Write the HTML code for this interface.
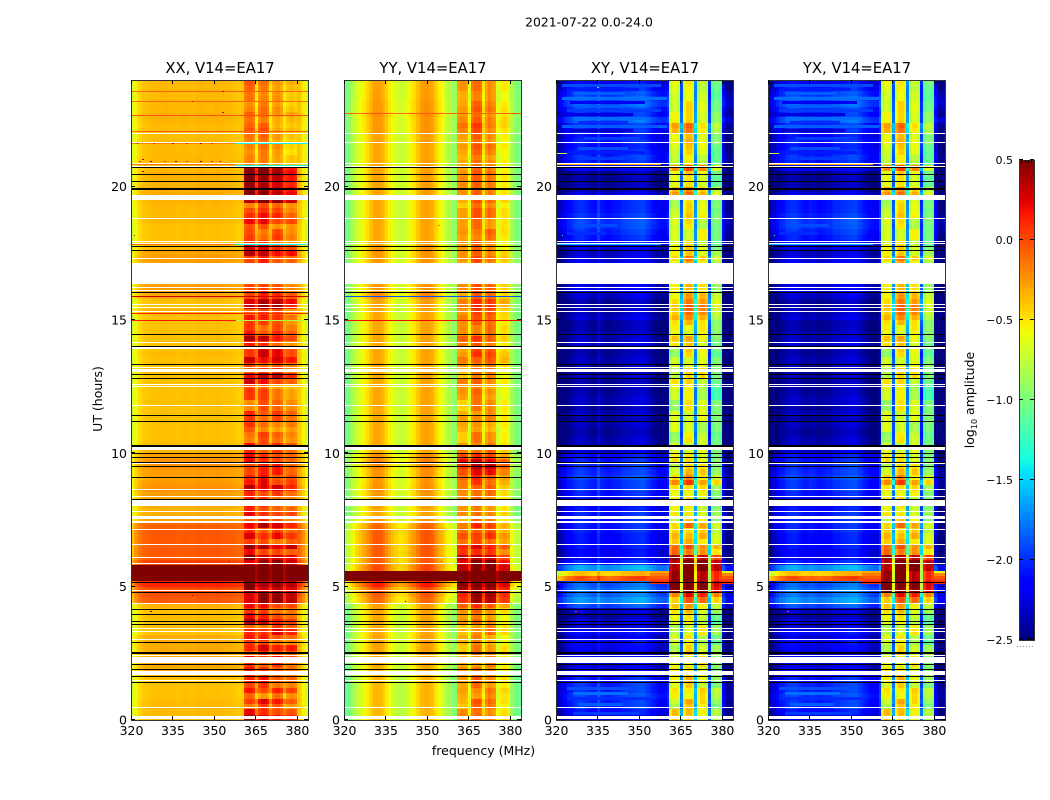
<!DOCTYPE html>
<html lang="en">
<head>
<meta charset="utf-8">
<title>2021-07-22 0.0-24.0</title>
<style>
html,body{margin:0;padding:0;background:#fff;width:1050px;height:800px;overflow:hidden}
svg{display:block}
text{font-family:"DejaVu Sans","Liberation Sans",sans-serif;fill:#000}
</style>
</head>
<body>
<svg id="fig" xmlns="http://www.w3.org/2000/svg" width="1050" height="800" viewBox="0 0 1050 800">
  <text x="589" y="26.5" font-size="12.4" text-anchor="middle">2021-07-22 0.0-24.0</text>
  <text x="483.5" y="755" font-size="12.5" text-anchor="middle">frequency (MHz)</text>
  <text transform="translate(102,399) rotate(-90)" font-size="12.5" text-anchor="middle">UT (hours)</text>
  <text transform="translate(974,400) rotate(-90)" font-size="12.5" text-anchor="middle">log<tspan font-size="8" dy="3">10</tspan><tspan dy="-3"> amplitude</tspan></text>
</svg>
<script>
// ---- axis data ----
const panelTitles = ["XX, V14=EA17", "YY, V14=EA17", "XY, V14=EA17", "YX, V14=EA17"];
const xTickLabels = [320, 335, 350, 365, 380];
const yTickLabels = [0, 5, 10, 15, 20];
const colorbarTicks = [-2.5, -2.0, -1.5, -1.0, -0.5, 0.0, 0.5];

// ---- heatmap data: log10 amplitude per 1 MHz channel (320..383 MHz) ----
const profileXX = [
-.72,-.58,-.5,-.46,-.42,-.4,-.4,-.39,-.38,-.38,
-.38,-.38,-.37,-.38,-.38,-.38,-.39,-.39,-.38,-.38,
-.38,-.39,-.39,-.38,-.37,-.37,-.38,-.38,-.38,-.38,
-.37,-.37,-.38,-.38,-.39,-.39,-.4,-.4,-.42,-.42,
-.42,-.17,-.12,-.12,-.19,-.4,-.17,-.09,-.09,-.17,
-.4,-.19,-.12,-.12,-.19,-.42,-.22,-.17,-.17,-.22,
-.4,-.45,-.55,-.72];
const profileYY = [
-1.05,-1,-.92,-.82,-.72,-.65,-.6,-.55,-.48,-.4,
-.33,-.3,-.3,-.32,-.38,-.46,-.55,-.62,-.68,-.72,
-.74,-.72,-.68,-.62,-.55,-.5,-.42,-.35,-.3,-.28,
-.28,-.32,-.38,-.46,-.55,-.62,-.7,-.78,-.85,-.9,
-.95,-.42,-.38,-.38,-.42,-.65,-.25,-.18,-.18,-.22,
-.55,-.3,-.22,-.25,-.3,-.7,-.55,-.5,-.5,-.55,
-.85,-.95,-1,-1.02];
const profileXY = [
-2.5,-2.45,-2.38,-2.3,-2.22,-2.2,-2.15,-2.12,-2.1,-2.1,
-2.12,-2.15,-2.18,-2.2,-2.2,-2.05,-2.18,-2.2,-2.22,-2.22,
-2.2,-2.18,-2.18,-2.15,-2.12,-2.12,-2.1,-2.08,-2.08,-2.06,
-2.05,-2.05,-2.08,-2.12,-2.18,-2.22,-2.25,-2.28,-2.3,-2.3,
-2.2,-.95,-.8,-.8,-.9,-1.9,-.75,-.6,-.6,-.7,
-1.75,-.85,-.7,-.7,-.8,-2.05,-1.1,-.95,-.95,-1.05,
-2.35,-2.55,-2.6,-2.6];
const profileYX = [
-2.5,-2.45,-2.38,-2.3,-2.22,-2.2,-2.15,-2.12,-2.1,-2.1,
-2.1,-2.14,-2.18,-2.2,-2.2,-2.16,-2.18,-2.2,-2.22,-2.22,
-2.2,-2.18,-2.18,-2.15,-2.12,-2.12,-2.1,-2.08,-2.08,-2.06,
-2.05,-2.05,-2.08,-2.12,-2.18,-2.22,-2.25,-2.28,-2.3,-2.3,
-2.1,-.95,-.8,-.8,-.9,-1.9,-.75,-.6,-.6,-.7,
-1.75,-.85,-.7,-.7,-.8,-2.05,-1.1,-.95,-.95,-1.05,
-2.35,-2.55,-2.6,-2.6];

// time rows: one value every 0.2 h, from 0 h to 24 h (off-band channel offset)
const rowXX = [
.02,.02,.02,.02,0,0,0,0,.05,.08,
.08,.06,.07,.07,.07,.07,0,.02,0,.02,
0,.05,.33,.36,.38,.5,1.4,1.4,1.4,.4,
.33,.33,.32,.33,.33,.33,.3,.1,.06,.05,
.07,.1,.12,.15,.12,.1,.12,.14,.14,.12,
.05,.02,0,0,0,0,0,0,0,0,
0,0,0,0,0,0,0,0,.02,0,
0,0,0,0,0,0,.05,0,0,.08,
.12,.1,0,0,0,.1,.12,.1,.02,0,
0,0,0,.02,.02,.02,.03,.05,.07,.07,
.05,.05,.05,.03,.03,.03,.02,.02,.01,.01,
.02,.02,.04,.04,.03,.03,.02,.02,.02,.03];
// time rows: in-band (361-380 MHz) offset
const bandXX = [
.45,.25,.05,.25,-.05,.2,.1,.2,.1,.15,
.1,.25,.1,.3,.1,.2,.3,.1,.35,.2,
.1,.25,.5,.5,.5,.6,.8,.8,.8,.5,
.5,.2,.5,.1,.3,.15,.4,.1,.25,.15,
.15,.15,.15,.4,.25,.2,.2,.2,.2,.2,
.15,.2,0,.05,-.05,.05,.1,.15,0,0,
.05,.05,-.05,.25,.4,.1,.1,.4,.3,.3,
.1,.35,.2,.1,.1,.2,.05,.45,.45,.2,
.1,.1,0,0,0,.15,.15,.4,.3,.05,
.1,.05,0,.25,.2,.1,0,.55,.55,.5,
.45,.5,.55,.5,-.1,-.1,-.15,-.1,-.15,-.1,
-.05,-.1,-.12,-.05,-.1,-.15,-.1,-.12,-.1,-.05];
const rowYY = [
-.05,-.05,-.05,-.05,-.05,-.05,-.05,-.05,-.05,-.03,
0,0,0,.02,.02,.02,0,0,0,0,
.02,.03,.2,.25,.3,.45,1.6,1.6,.3,.25,
.25,.25,.25,.25,.25,.25,.2,.05,0,0,
0,0,.05,.07,.05,.05,.07,.1,.12,.1,
0,0,0,0,0,0,0,0,0,0,
0,0,0,0,0,0,0,0,0,0,
0,0,0,0,0,0,0,.02,.02,.1,
.05,.05,0,0,0,.05,.05,.05,.05,0,
0,0,0,0,0,0,0,0,.02,.02,
.02,.02,.02,.02,.02,0,0,0,.02,.02,
.05,.05,.05,.08,.05,.05,.03,.03,.02,.02];
const bandYY = [
.15,.1,.05,.1,0,.05,.05,.1,.05,.05,
0,0,.05,0,-.02,0,.05,0,.05,0,
.1,.25,.55,.6,.7,.8,1.1,1.1,.8,.7,
.6,.35,.45,.2,.3,.2,.25,.05,.1,.05,
.05,.1,.1,.15,.2,.25,.4,.5,.5,.3,
.15,.05,0,0,-.05,0,.05,0,0,0,
0,.05,0,.1,0,.05,.1,.2,.2,.15,
.1,.2,.1,.1,.1,.15,.15,.25,.25,.1,
.15,.15,0,0,0,.1,.15,.1,.05,.05,
.05,.1,.05,.05,.1,.1,0,.1,.1,.1,
.1,.1,.1,.05,.05,0,.05,.1,0,.05,
.1,.15,.1,.05,.1,.05,0,0,.05,.05];
const rowXY = [
-.1,.05,.15,.15,.2,.15,.15,.1,0,-.05,
-.1,-.05,-.1,-.05,0,-.1,0,-.15,-.1,-.25,
-.15,.25,.45,.35,.35,.3,2.1,1.75,.5,.1,
0,0,.05,.05,.05,.1,.1,.1,.1,.05,
0,.05,.1,.15,.15,.2,.15,.15,.1,.05,
-.15,-.2,-.2,-.25,-.25,-.2,-.25,-.2,-.25,-.2,
-.2,-.25,-.25,-.25,-.2,-.25,-.25,-.2,-.25,-.25,
-.15,-.2,-.2,-.25,-.25,-.15,-.2,-.25,-.25,-.15,
-.05,-.1,0,0,0,-.05,-.1,-.15,-.1,.05,
.1,.15,.2,.2,.15,.1,.1,.1,-.1,-.2,
-.25,-.25,-.25,-.05,.1,.15,.1,.05,.1,.05,
.1,.15,.3,.15,.2,.3,.25,.2,.1,0];
const bandXY = [
.25,.3,.1,.2,.15,.2,.1,.2,.15,.1,
.1,.05,.1,.05,0,.05,.1,.05,0,.05,
.2,.3,.5,.75,1.25,1.3,1.2,1.2,1.3,1.3,
1.1,.55,.6,.3,.35,.25,.4,.1,.15,.1,
.1,.1,.1,.2,.55,.3,.2,.1,.15,.1,
.05,0,0,-.05,0,0,.05,.05,0,0,
-.05,-.05,0,.1,.1,.1,.1,.05,0,.05,
.1,.2,.1,.15,.2,.35,.4,.45,.4,.3,
.2,.2,0,0,0,.2,.35,.15,.1,0,
.05,.05,0,.05,.1,.05,.05,0,.45,.35,
.05,.05,.1,.5,0,0,.05,.1,.15,.1,
.3,.35,.1,.1,.05,.05,0,0,0,.05];

// per-subband mottling, one value every 0.4 h from 0 h to 24 h
const subbandA = [
.12,-.08,.1,.05,.15,.1,-.05,.1,-.05,.15,
.1,-.1,.12,.05,-.1,.15,.08,.1,-.05,.12,
.15,.1,.05,-.05,.15,.12,-.05,.15,.1,-.08,
.15,.18,-.05,.05,-.1,.18,.1,.1,-.02,-.05,
.05,.12,0,.1,.12,.08,.1,.02,-.05,.1,
.12,.08,.05,.05,.1,.15,.12,.05,.1,.15];
const subbandB = [
-.05,.1,-.1,.08,.02,-.08,.1,.05,-.12,.05,
.05,.08,-.1,.1,.05,-.08,0,-.1,.1,-.05,
.05,-.05,.1,.05,0,-.1,.1,-.05,-.1,.1,
.1,.05,.05,-.1,.12,.1,-.12,.05,.1,.05,
.05,-.05,.1,.05,.1,-.1,.08,.1,.1,.05,
.05,.1,.05,.1,.12,.15,.05,.1,.02,.05];
const subbandC = [
-.12,.05,.08,-.1,-.05,.12,-.02,-.1,.1,-.05,
-.1,.1,-.02,-.1,.12,-.05,-.1,.05,.02,-.08,
-.1,.05,-.1,.1,-.05,.05,.02,-.1,.05,.05,
-.05,-.1,.1,.02,.08,-.05,.05,.02,.1,.05,
.02,.02,-.05,-.08,-.05,.1,-.1,.05,.05,-.05,
-.02,.02,-.05,.02,-.02,-.1,-.05,.02,.02,-.05];
const subbandD = [
-.1,-.12,.02,-.1,-.08,-.05,.05,-.12,.02,-.12,
-.05,.02,-.05,-.1,0,-.08,.02,-.05,-.1,-.05,
-.12,-.08,-.02,-.1,-.1,-.05,-.05,-.02,-.05,-.02,
-.15,-.15,-.1,-.05,-.12,-.15,-.08,-.15,-.12,-.05,
-.1,-.1,-.05,-.02,-.12,-.08,-.05,-.1,-.05,-.12,
-.15,-.15,-.1,-.15,-.1,-.12,-.05,-.1,-.12,-.08];
const subbandTables = [subbandA, subbandB, subbandC, subbandD];
const subbandStart = [361, 366, 371, 376];
const subbandScale = [1, .7, 1.2, 1.2];

// flagged rows (hours)
const whiteLines = [22.0,21.66,20.9,20.79,18.81,17.97,17.88,17.31,16.23,16.14,15.59,15.48,15.35,14.16,13.23,12.59,12.53,11.8,9.65,8.65,8.41,7.85,7.15,6.59,6.1,5.88,4.86,4.38,3.46,3.35,3.03,2.44,1.5,.48];
const whiteBandStart = [19.5,16.35,13.91,13.04,10.13,8.03,7.54,7.4,2.13,1.67,.03];
const whiteBandEnd = [19.69,17.14,13.99,13.16,10.24,8.28,7.64,7.47,2.36,1.85,.15];
const blackLines = [20.72,20.46,20.2,17.78,17.61,16.06,14.46,14.01,13.34,12.99,12.81,11.45,11.2,10,9.85,9.69,9.51,9.1,8.29,5.16,4.79,4.17,3.96,3.7,3.6,2.91,2.11,1.92,1.66,1.41];
const blackThick = [19.96,10.32,2.56];

// thin anomalous rows: panel index, hour, start MHz, end MHz, value
const streakPanel = [0,0,0,0,0,0,0,0,0,0,0,0,0,0,1,1,1,1,2,3,2,3,2,3];
const streakHour = [23.6,23.2,22.7,22.1,21.64,21.64,20.82,20.85,17.86,17.86,15.9,15.25,15.0,15.0,15.9,15.0,22.75,20.88,20.85,20.85,21.25,21.25,17.86,17.86];
const streakFrom = [320,320,320,320,358,320,358,320,358,320,320,320,320,358,320,320,320,320,320,320,320,320,320,320];
const streakTo = [384,384,384,384,384,358,384,358,384,358,384,384,358,384,384,384,384,358,358,358,352,352,358,358];
const streakValue = [-.08,-.1,-.02,-.08,-1.4,-.2,-1.4,-.15,-1.4,-.1,.3,.1,.15,-.8,-1.9,.2,-.08,-.2,-.35,-.35,-.75,-.75,-1.6,-1.6];

// cross-hand off-band streaks, shared by XY and YX (last rows fill the spike beside the band)
const crossHour = [23.85,23.7,23.55,23.35,23.2,23.05,22.9,22.75,22.6,22.45,22.3,22.15,21.85,21.5,21.35,21.1,18.6,18.3,1.25,1.05,.85,.65,.3,5.6,5.5,5.4,5.3,5.2,5.6,5.5,5.4,5.3,5.2];
const crossFrom = [322,324,326,322,325,328,324,322,326,328,322,325,330,328,324,330,326,324,324,326,324,328,326,354,354,354,354,354,380,380,380,380,380];
const crossTo = [358,350,345,360,352,344,358,348,354,346,360,348,350,346,352,348,342,338,352,346,354,344,350,361,361,361,361,361,384,384,384,384,384];
const crossValue = [-1.9,-2.05,-1.85,-1.8,-2.2,-1.85,-1.95,-2.25,-1.8,-2,-1.85,-2.3,-1.95,-1.9,-2.05,-1.95,-1.9,-2,-1.9,-1.8,-2,-1.85,-1.95,-.3,-.15,-.05,.05,.1,-.6,-.2,-.05,.05,.1];

// single outlier cells: panel index, channel MHz, hour, value
const speckPanel = [0,0,0,0,0,0,0,0,0,0,0,0,0,0,0,0,0,0,0,0,0,0,0,2,2,2,2,3,3,1,1,1];
const speckFreq = [353,342,353,324,324,321,323,327,332,336,340,345,349,352,322,328,335,340,345,349,342,355,327,327,355,335,322,327,322,355,342,354];
const speckHour = [23.6,23.2,22.8,21.05,20.6,18.2,20.95,20.95,20.95,20.95,20.95,20.95,20.95,20.95,21.64,21.64,21.64,21.64,21.64,21.64,4.7,5.96,4.1,4.1,5.96,23.75,18.2,4.1,18.2,5.96,4.45,18.55];
const speckValue = [.3,.3,.3,.3,.3,.3,.1,.4,.1,.4,.1,.4,.1,.4,.4,.1,.4,.1,.4,.1,.45,.5,.55,0,-.1,-1.2,-1.2,0,-1.2,.2,.45,-.1];

const panelProfiles = [profileXX, profileYY, profileXY, profileYX];
const panelRows = [rowXX, rowYY, rowXY, rowXY];
const panelBands = [bandXX, bandYY, bandXY, bandXY];

// ---- layout ----
const svg = document.getElementById('fig');
const NS = 'http://www.w3.org/2000/svg';
const panelLeft = [131, 344, 556, 768];
const panelWidth = 177, panelTop = 80, panelHeight = 640;
const fMin = 320, fMax = 384, tMin = 0, tMax = 24, rowStep = 0.2, textureStep = 0.4;
const vMin = -2.5, vMax = 0.5;
const cbLeft = 1019, cbRight = 1034, cbTop = 160, cbBottom = 640;

const xScale = (p, f) => panelLeft[p] + (f - fMin) / (fMax - fMin) * panelWidth;
const yScale = h => panelTop + panelHeight - (h - tMin) / (tMax - tMin) * panelHeight;
const cbScale = v => cbBottom - (v - vMin) / (vMax - vMin) * (cbBottom - cbTop);

function lerpStops(x, xs, ys) {
  if (x <= xs[0]) return ys[0];
  for (let i = 1; i < xs.length; i++) {
    if (x <= xs[i]) return ys[i-1] + (ys[i]-ys[i-1]) * (x-xs[i-1]) / (xs[i]-xs[i-1]);
  }
  return ys[ys.length-1];
}
function jet(v) {
  const x = Math.max(0, Math.min(1, (v - vMin) / (vMax - vMin)));
  const r = lerpStops(x, [0,.35,.66,.89,1], [0,0,1,1,.5]);
  const g = lerpStops(x, [0,.125,.375,.64,.91,1], [0,0,1,1,0,0]);
  const b = lerpStops(x, [0,.11,.34,.65,1], [.5,1,1,0,0]);
  return 'rgb(' + Math.round(r*255) + ',' + Math.round(g*255) + ',' + Math.round(b*255) + ')';
}
function rect(parent, x0, y0, x1, y1, fill) {
  const el = document.createElementNS(NS, 'rect');
  const l = Math.round(x0), r = Math.round(x1), t = Math.round(y0);
  let b = Math.round(y1);
  if (b <= t) b = t + 1;
  el.setAttribute('x', l);
  el.setAttribute('y', t);
  el.setAttribute('width', Math.max(1, r - l));
  el.setAttribute('height', b - t);
  el.setAttribute('fill', fill);
  el.setAttribute('shape-rendering', 'crispEdges');
  parent.appendChild(el);
  return el;
}
function line(parent, x1, y1, x2, y2) {
  const el = document.createElementNS(NS, 'line');
  el.setAttribute('x1', x1);
  el.setAttribute('y1', y1);
  el.setAttribute('x2', x2);
  el.setAttribute('y2', y2);
  el.setAttribute('stroke', '#000');
  el.setAttribute('stroke-width', 1);
  el.setAttribute('shape-rendering', 'crispEdges');
  parent.appendChild(el);
  return el;
}
function label(parent, x, y, str, size, anchor) {
  const el = document.createElementNS(NS, 'text');
  el.setAttribute('x', x);
  el.setAttribute('y', y);
  el.setAttribute('font-size', size);
  el.setAttribute('text-anchor', anchor);
  el.textContent = str;
  parent.appendChild(el);
  return el;
}
function subbandOffset(f, i) {
  for (let k = 0; k < subbandStart.length; k++) {
    if (f >= subbandStart[k] && f < subbandStart[k] + 4) {
      return subbandTables[k][Math.floor(i * rowStep / textureStep)];
    }
  }
  return 0;
}

// ---- panels ----
panelTitles.forEach((title, p) => {
  const g = document.createElementNS(NS, 'g');
  
  
  svg.appendChild(g);

  const profile = panelProfiles[p], rows = panelRows[p], bands = panelBands[p];
  const cells = document.createElementNS(NS, 'g');
  
  
  g.appendChild(cells);
  for (let i = 0; i < rows.length; i++) {
    for (let c = 0; c < profile.length; c++) {
      const f = fMin + c;
      const inBand = f >= 361 && f < 380;
      const v = profile[c] + (inBand ? bands[i] + subbandOffset(f, i) * subbandScale[p] : rows[i]);
      const cell = rect(cells, xScale(p, f), yScale((i + 1) * rowStep), xScale(p, f + 1), yScale(i * rowStep), jet(v));
      
      
    }
  }
  streakHour.forEach((h, s) => {
    if (streakPanel[s] !== p) return;
    const yy = yScale(h);
    const el = rect(cells, xScale(p, streakFrom[s]), yy, xScale(p, streakTo[s]), yy + 1, jet(streakValue[s]));
    
    
  });
  if (p >= 2) {
    crossHour.forEach((h, s) => {
      const yy = yScale(h);
      const el = rect(cells, xScale(p, crossFrom[s]), yy, xScale(p, crossTo[s]), yy + 3, jet(crossValue[s]));
      
      
    });
  }
  speckHour.forEach((h, s) => {
    if (speckPanel[s] !== p) return;
    const yy = yScale(h);
    const el = rect(cells, xScale(p, speckFreq[s]), yy, xScale(p, speckFreq[s]) + 1.5, yy + 1, jet(speckValue[s]));
    
    
  });
  const x0 = panelLeft[p], x1 = panelLeft[p] + panelWidth;
  whiteLines.forEach(h => {
    const yy = yScale(h);
    const el = rect(g, x0, yy, x1, yy + 1, '#fff');
    
    
  });
  whiteBandStart.forEach((h, k) => {
    const el = rect(g, x0, yScale(whiteBandEnd[k]), x1, yScale(h), '#fff');
    
    
  });
  blackLines.forEach(h => {
    const yy = yScale(h);
    const el = rect(g, x0, yy, x1, yy + 1, '#000');
    
    
  });
  blackThick.forEach(h => {
    const yy = yScale(h);
    const el = rect(g, x0, yy, x1, yy + 2, '#000');
    
    
  });

  // frame
  const frame = document.createElementNS(NS, 'rect');
  frame.setAttribute('x', x0 + .5);
  frame.setAttribute('y', panelTop + .5);
  frame.setAttribute('width', panelWidth);
  frame.setAttribute('height', panelHeight);
  frame.setAttribute('fill', 'none');
  frame.setAttribute('stroke', '#333');
  
  
  g.appendChild(frame);

  // x ticks
  xTickLabels.forEach(f => {
    const xx = Math.round(xScale(p, f)) + .5;
    const tb = line(g, xx, panelTop + panelHeight, xx, panelTop + panelHeight - 4);
    
    
    const tt = line(g, xx, panelTop, xx, panelTop + 4);
    
    
    const lab = label(g, xScale(p, f) + .5, panelTop + panelHeight + 15, String(f), 12.5, 'middle');
    
    
  });
  // y ticks
  yTickLabels.forEach(h => {
    const yy = Math.round(yScale(h)) - .5;
    const tl = line(g, x0, yy, x0 + 4, yy);
    
    
    const tr = line(g, x1, yy, x1 - 4, yy);
    
    
    const lab = label(g, x0 - 4, yScale(h) + 4.5, String(h), 12.5, 'end');
    
    
  });
  const ttl = label(g, (x0 + x1) / 2 + .5, panelTop - 7, title, 14.8, 'middle');
  
  
});

// ---- colorbar ----
const cb = document.createElementNS(NS, 'g');


svg.appendChild(cb);
for (let k = 0; k < 240; k++) {
  const v0 = vMin + (vMax - vMin) * k / 240, v1 = vMin + (vMax - vMin) * (k + 1) / 240;
  const el = rect(cb, cbLeft, cbScale(v1), cbRight, cbScale(v0), jet((v0 + v1) / 2));
  
  
}
const cbFrame = document.createElementNS(NS, 'rect');
cbFrame.setAttribute('x', cbLeft + .5);
cbFrame.setAttribute('y', cbTop + .5);
cbFrame.setAttribute('width', cbRight - cbLeft);
cbFrame.setAttribute('height', cbBottom - cbTop);
cbFrame.setAttribute('fill', 'none');
cbFrame.setAttribute('stroke', '#333');


cb.appendChild(cbFrame);
colorbarTicks.forEach(v => {
  const yy = Math.round(cbScale(v)) - .5;
  const a = line(cb, cbLeft, yy, cbLeft + 4, yy);
  
  
  const b = line(cb, cbRight, yy, cbRight - 4, yy);
  
  
  const str = (v < 0 ? '\u2212' : '') + Math.abs(v).toFixed(1);
  const lab = label(cb, 1013, cbScale(v) + 4, str, 11, 'end');
  
  
});
[1021.5, 1025.5, 1028.5, 1031.5].forEach(xx => {
  const a = line(cb, xx, cbTop, xx, cbTop + 3);
  
  
  const b = line(cb, xx, cbBottom, xx, cbBottom - 3);
  
  
});
const dots = document.createElementNS(NS, 'line');
dots.setAttribute('x1', 1017);
dots.setAttribute('y1', 646.5);
dots.setAttribute('x2', 1035);
dots.setAttribute('y2', 646.5);
dots.setAttribute('stroke', '#999');
dots.setAttribute('stroke-dasharray', '1 2');


cb.appendChild(dots);
</script>
</body>
</html>
